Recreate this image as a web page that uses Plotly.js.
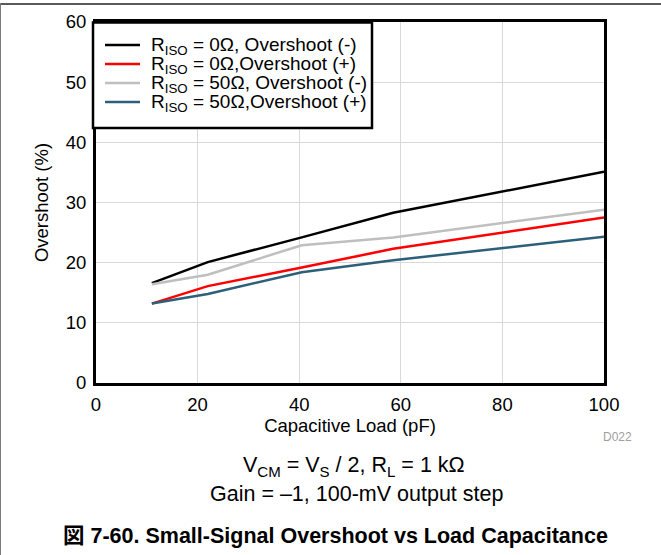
<!DOCTYPE html>
<html>
<head>
<meta charset="utf-8">
<script src="https://cdn.plot.ly/plotly-3.0.1.min.js"></script>
<style>
  html, body { margin: 0; padding: 0; background: #fff; }
  #wrap { position: relative; width: 661px; height: 555px; overflow: hidden; }
  #chart { position: absolute; left: 0; top: 0; width: 661px; height: 555px; }
  #topline { position: absolute; left: 0; top: 3px; width: 661px; height: 2px; background: #5a5a5a; }
  #leftline { position: absolute; left: 0; top: 3px; width: 1px; height: 552px; background: #7a7a7a; }
</style>
</head>
<body>
<div id="wrap">
  <div id="chart"></div>
  <div id="topline"></div>
  <div id="leftline"></div>
</div>
<script>
// Data
const capLoad = [11, 22, 40.5, 58.5, 100];          // pF
const riso0Neg  = [16.6, 20.1, 24.2, 28.3, 35.1];   // RISO = 0Ω, Overshoot (-)
const riso0Pos  = [13.2, 16.1, 19.2, 22.3, 27.5];   // RISO = 0Ω, Overshoot (+)
const riso50Neg = [16.4, 18.0, 22.9, 24.2, 28.8];   // RISO = 50Ω, Overshoot (-)
const riso50Pos = [13.2, 14.8, 18.4, 20.4, 24.3];   // RISO = 50Ω, Overshoot (+)

const seriesNames = [
  'R<sub>ISO</sub> = 0Ω, Overshoot (-)',
  'R<sub>ISO</sub> = 0Ω,Overshoot (+)',
  'R<sub>ISO</sub> = 50Ω, Overshoot (-)',
  'R<sub>ISO</sub> = 50Ω,Overshoot (+)'
];
const seriesValues = [riso0Neg, riso0Pos, riso50Neg, riso50Pos];
const seriesColors = ['#000000', '#ff0000', '#bfbfbf', '#2c5f79'];

const xTicks = [0, 20, 40, 60, 80, 100];
const yTicks = [0, 10, 20, 30, 40, 50, 60];

const FONT = 'Liberation Sans, Arial, Helvetica, sans-serif';

// plot-area geometry helpers (pixel -> paper)
const PL = 96, PW = 508, PB = 383, PH = 361;
const px = v => (v - PL) / PW;
const py = v => (PB - v) / PH;

const traces = seriesValues.map((v, i) => ({
  type: 'scatter',
  mode: 'lines',
  x: capLoad,
  y: v,
  name: seriesNames[i],
  showlegend: false,
  line: { color: seriesColors[i], width: 2.5 }
}));

// Legend drawn as shapes + annotations (box, line samples, labels)
const legendRows = [45, 64, 83, 102];
const shapes = [
  { type: 'rect', xref: 'paper', yref: 'paper', layer: 'above',
    x0: px(93), x1: px(372), y0: py(128), y1: py(22.5),
    fillcolor: '#ffffff', line: { color: '#000000', width: 2.5 } }
];
const annotations = [];
seriesNames.forEach((name, i) => {
  shapes.push({ type: 'line', xref: 'paper', yref: 'paper', layer: 'above',
    x0: px(105), x1: px(140), y0: py(legendRows[i]), y1: py(legendRows[i]),
    line: { color: seriesColors[i], width: 2.5 } });
  annotations.push({ xref: 'paper', yref: 'paper', x: px(149), y: py(legendRows[i] + 1),
    xanchor: 'left', yanchor: 'middle', showarrow: false, text: name,
    font: { family: FONT, size: 19, color: '#000000' } });
});

annotations.push(
  { xref: 'paper', yref: 'paper', x: px(617), y: py(437),
    xanchor: 'center', yanchor: 'middle', showarrow: false,
    text: 'D022', font: { family: FONT, size: 12, color: '#a0a0a0' } },
  { xref: 'paper', yref: 'paper', x: px(354), y: py(466),
    xanchor: 'center', yanchor: 'middle', showarrow: false,
    text: 'V<sub>CM</sub> = V<sub>S</sub> / 2, R<sub>L</sub> = 1 kΩ',
    font: { family: FONT, size: 21.5, color: '#000000' } },
  { xref: 'paper', yref: 'paper', x: px(356), y: py(494),
    xanchor: 'center', yanchor: 'middle', showarrow: false,
    text: 'Gain = –1, 100-mV output step',
    font: { family: FONT, size: 21.5, color: '#000000' } },
  { xref: 'paper', yref: 'paper', x: px(335), y: py(536),
    xanchor: 'center', yanchor: 'middle', showarrow: false,
    text: '<b>図 7-60. Small-Signal Overshoot vs Load Capacitance</b>',
    font: { family: 'Liberation Sans, Arial, Noto Sans CJK JP, sans-serif', size: 21.5, color: '#000000' } }
);

const layout = {
  width: 661,
  height: 555,
  margin: { l: 96, r: 57, t: 22, b: 172 },
  paper_bgcolor: '#ffffff',
  plot_bgcolor: '#ffffff',
  font: { family: FONT, size: 18, color: '#000000' },
  showlegend: false,
  xaxis: {
    range: [0, 100],
    tickvals: xTicks,
    ticktext: xTicks.map(String),
    showgrid: true,
    gridcolor: '#d9d9d9',
    gridwidth: 1,
    zeroline: false,
    showline: true,
    linecolor: '#000000',
    linewidth: 3,
    mirror: true,
    ticks: '',
    ticklabelstandoff: 3,
    tickfont: { family: FONT, size: 18.5, color: '#000000' },
    title: { text: 'Capacitive Load (pF)', font: { family: FONT, size: 18.5, color: '#000000' }, standoff: 2 }
  },
  yaxis: {
    range: [0, 60],
    tickvals: yTicks,
    ticktext: yTicks.map(String),
    showgrid: true,
    gridcolor: '#d9d9d9',
    gridwidth: 1,
    zeroline: false,
    showline: true,
    linecolor: '#000000',
    linewidth: 3,
    mirror: true,
    ticks: '',
    ticklabelstandoff: 3,
    tickfont: { family: FONT, size: 18.5, color: '#000000' },
    title: { text: 'Overshoot (%)', font: { family: FONT, size: 18.5, color: '#000000' }, standoff: 13 }
  },
  shapes: shapes,
  annotations: annotations
};

Plotly.newPlot('chart', traces, layout, { displayModeBar: false, staticPlot: true });
</script>
</body>
</html>
